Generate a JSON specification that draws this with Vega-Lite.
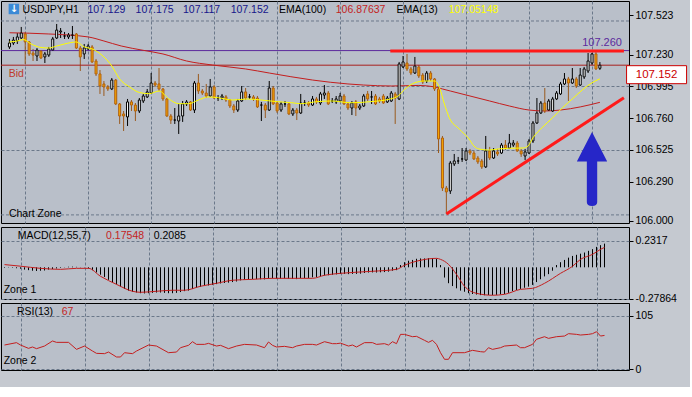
{
"$schema":"https://vega.github.io/schema/vega-lite/v6.json",
"background":"#c5c9d0",
"padding":0,
"spacing":4,
"bounds":"flush",
"config":{
"view":{"stroke":"#000000","strokeWidth":1,"fill":"#b9bfc9"},
"font":"Liberation Sans",
"axis":{"labelFont":"Liberation Sans","labelFontSize":10.5,"labelColor":"#000000","tickColor":"#000000","domain":false,"gridColor":"#6b788a","gridDash":[3,2],"gridOpacity":1,"gridWidth":1,"labelOverlap":false,"labelFlush":false,"labelBound":false},
"text":{"font":"Liberation Sans","fontSize":10.5}
},
"datasets":{
"bars":[
{"t":0,"o":107.287,"h":107.346,"l":107.272,"c":107.316,"m":-0.005},
{"t":1,"o":107.316,"h":107.361,"l":107.301,"c":107.338,"m":0.003},
{"t":2,"o":107.331,"h":107.390,"l":107.309,"c":107.361,"m":-0.004},
{"t":3,"o":107.353,"h":107.435,"l":107.346,"c":107.390,"m":-0.008},
{"t":4,"o":107.383,"h":107.398,"l":107.161,"c":107.324,"m":-0.012},
{"t":5,"o":107.324,"h":107.331,"l":107.220,"c":107.235,"m":-0.02},
{"t":6,"o":107.242,"h":107.272,"l":107.183,"c":107.227,"m":-0.025},
{"t":7,"o":107.220,"h":107.279,"l":107.183,"c":107.264,"m":-0.03},
{"t":8,"o":107.257,"h":107.264,"l":107.198,"c":107.205,"m":-0.032},
{"t":9,"o":107.213,"h":107.250,"l":107.168,"c":107.235,"m":-0.03},
{"t":10,"o":107.227,"h":107.287,"l":107.213,"c":107.272,"m":-0.028},
{"t":11,"o":107.264,"h":107.361,"l":107.257,"c":107.346,"m":-0.02},
{"t":12,"o":107.353,"h":107.457,"l":107.346,"c":107.412,"m":-0.015},
{"t":13,"o":107.398,"h":107.427,"l":107.353,"c":107.405,"m":-0.01},
{"t":14,"o":107.368,"h":107.398,"l":107.346,"c":107.368,"m":-0.005},
{"t":15,"o":107.361,"h":107.390,"l":107.346,"c":107.375,"m":0.002},
{"t":16,"o":107.375,"h":107.442,"l":107.346,"c":107.375,"m":0.005},
{"t":17,"o":107.383,"h":107.390,"l":107.272,"c":107.279,"m":0.006},
{"t":18,"o":107.279,"h":107.294,"l":107.109,"c":107.213,"m":0.004},
{"t":19,"o":107.235,"h":107.309,"l":107.198,"c":107.279,"m":0.002},
{"t":20,"o":107.272,"h":107.309,"l":107.257,"c":107.294,"m":-0.002},
{"t":21,"o":107.287,"h":107.301,"l":107.168,"c":107.176,"m":-0.01},
{"t":22,"o":107.183,"h":107.198,"l":107.072,"c":107.087,"m":-0.025},
{"t":23,"o":107.087,"h":107.116,"l":106.939,"c":106.998,"m":-0.045},
{"t":24,"o":107.013,"h":107.035,"l":106.924,"c":106.991,"m":-0.065},
{"t":25,"o":106.991,"h":107.005,"l":106.961,"c":106.976,"m":-0.085},
{"t":26,"o":106.976,"h":107.057,"l":106.968,"c":107.042,"m":-0.11},
{"t":27,"o":107.042,"h":107.050,"l":106.857,"c":106.865,"m":-0.13},
{"t":28,"o":106.865,"h":106.872,"l":106.717,"c":106.776,"m":-0.15},
{"t":29,"o":106.791,"h":106.813,"l":106.665,"c":106.776,"m":-0.17},
{"t":30,"o":106.769,"h":106.902,"l":106.702,"c":106.880,"m":-0.19},
{"t":31,"o":106.880,"h":106.894,"l":106.813,"c":106.857,"m":-0.205},
{"t":32,"o":106.857,"h":106.872,"l":106.739,"c":106.813,"m":-0.215},
{"t":33,"o":106.813,"h":106.909,"l":106.798,"c":106.894,"m":-0.222},
{"t":34,"o":106.887,"h":106.939,"l":106.872,"c":106.924,"m":-0.228},
{"t":35,"o":106.917,"h":106.976,"l":106.909,"c":106.954,"m":-0.23},
{"t":36,"o":106.946,"h":107.094,"l":106.939,"c":107.020,"m":-0.228},
{"t":37,"o":107.020,"h":107.035,"l":106.991,"c":107.005,"m":-0.225},
{"t":38,"o":107.013,"h":107.131,"l":106.961,"c":106.976,"m":-0.222},
{"t":39,"o":106.976,"h":106.983,"l":106.887,"c":106.902,"m":-0.222},
{"t":40,"o":106.902,"h":106.909,"l":106.769,"c":106.776,"m":-0.225},
{"t":41,"o":106.776,"h":106.791,"l":106.717,"c":106.746,"m":-0.228},
{"t":42,"o":106.746,"h":106.835,"l":106.717,"c":106.746,"m":-0.228},
{"t":43,"o":106.739,"h":106.865,"l":106.643,"c":106.776,"m":-0.225},
{"t":44,"o":106.776,"h":106.887,"l":106.732,"c":106.865,"m":-0.218},
{"t":45,"o":106.865,"h":106.894,"l":106.850,"c":106.880,"m":-0.21},
{"t":46,"o":106.880,"h":106.887,"l":106.813,"c":106.820,"m":-0.205},
{"t":47,"o":106.820,"h":107.035,"l":106.798,"c":107.020,"m":-0.19},
{"t":48,"o":107.020,"h":107.087,"l":106.939,"c":106.961,"m":-0.18},
{"t":49,"o":106.961,"h":106.976,"l":106.931,"c":106.946,"m":-0.172},
{"t":50,"o":106.946,"h":107.013,"l":106.909,"c":106.924,"m":-0.165},
{"t":51,"o":106.924,"h":107.050,"l":106.917,"c":106.991,"m":-0.16},
{"t":52,"o":106.991,"h":107.005,"l":106.902,"c":106.909,"m":-0.155},
{"t":53,"o":106.909,"h":106.931,"l":106.887,"c":106.909,"m":-0.148},
{"t":54,"o":106.909,"h":106.939,"l":106.894,"c":106.924,"m":-0.142},
{"t":55,"o":106.917,"h":106.931,"l":106.880,"c":106.894,"m":-0.138},
{"t":56,"o":106.894,"h":106.902,"l":106.835,"c":106.850,"m":-0.135},
{"t":57,"o":106.850,"h":106.865,"l":106.798,"c":106.820,"m":-0.13},
{"t":58,"o":106.820,"h":106.902,"l":106.806,"c":106.887,"m":-0.125},
{"t":59,"o":106.887,"h":106.998,"l":106.880,"c":106.954,"m":-0.115},
{"t":60,"o":106.954,"h":106.983,"l":106.894,"c":106.909,"m":-0.11},
{"t":61,"o":106.917,"h":106.939,"l":106.902,"c":106.917,"m":-0.106},
{"t":62,"o":106.917,"h":106.931,"l":106.887,"c":106.902,"m":-0.104},
{"t":63,"o":106.909,"h":106.924,"l":106.835,"c":106.843,"m":-0.104},
{"t":64,"o":106.857,"h":106.880,"l":106.739,"c":106.857,"m":-0.105},
{"t":65,"o":106.857,"h":106.872,"l":106.761,"c":106.820,"m":-0.106},
{"t":66,"o":106.820,"h":107.035,"l":106.813,"c":106.983,"m":-0.098},
{"t":67,"o":106.983,"h":106.998,"l":106.857,"c":106.865,"m":-0.097},
{"t":68,"o":106.872,"h":106.887,"l":106.798,"c":106.813,"m":-0.1},
{"t":69,"o":106.820,"h":106.880,"l":106.806,"c":106.865,"m":-0.1},
{"t":70,"o":106.865,"h":106.887,"l":106.843,"c":106.865,"m":-0.098},
{"t":71,"o":106.865,"h":106.880,"l":106.783,"c":106.791,"m":-0.1},
{"t":72,"o":106.791,"h":106.835,"l":106.776,"c":106.820,"m":-0.102},
{"t":73,"o":106.820,"h":106.835,"l":106.746,"c":106.798,"m":-0.104},
{"t":74,"o":106.798,"h":106.939,"l":106.791,"c":106.872,"m":-0.097},
{"t":75,"o":106.872,"h":106.894,"l":106.850,"c":106.872,"m":-0.095},
{"t":76,"o":106.872,"h":106.887,"l":106.843,"c":106.857,"m":-0.094},
{"t":77,"o":106.857,"h":106.924,"l":106.850,"c":106.902,"m":-0.088},
{"t":78,"o":106.902,"h":106.917,"l":106.865,"c":106.880,"m":-0.085},
{"t":79,"o":106.872,"h":106.954,"l":106.857,"c":106.939,"m":-0.08},
{"t":80,"o":106.931,"h":107.005,"l":106.902,"c":106.946,"m":-0.072},
{"t":81,"o":106.946,"h":106.961,"l":106.857,"c":106.865,"m":-0.07},
{"t":82,"o":106.887,"h":106.909,"l":106.872,"c":106.887,"m":-0.066},
{"t":83,"o":106.880,"h":106.924,"l":106.865,"c":106.902,"m":-0.062},
{"t":84,"o":106.887,"h":106.946,"l":106.880,"c":106.924,"m":-0.058},
{"t":85,"o":106.924,"h":106.939,"l":106.857,"c":106.865,"m":-0.058},
{"t":86,"o":106.865,"h":106.880,"l":106.820,"c":106.835,"m":-0.06},
{"t":87,"o":106.835,"h":106.887,"l":106.783,"c":106.872,"m":-0.058},
{"t":88,"o":106.880,"h":106.894,"l":106.776,"c":106.835,"m":-0.058},
{"t":89,"o":106.835,"h":106.865,"l":106.820,"c":106.850,"m":-0.056},
{"t":90,"o":106.850,"h":106.939,"l":106.843,"c":106.924,"m":-0.05},
{"t":91,"o":106.939,"h":106.961,"l":106.887,"c":106.902,"m":-0.046},
{"t":92,"o":106.917,"h":106.961,"l":106.865,"c":106.917,"m":-0.045},
{"t":93,"o":106.924,"h":106.939,"l":106.857,"c":106.865,"m":-0.046},
{"t":94,"o":106.902,"h":106.917,"l":106.872,"c":106.887,"m":-0.044},
{"t":95,"o":106.924,"h":106.939,"l":106.865,"c":106.872,"m":-0.042},
{"t":96,"o":106.880,"h":106.924,"l":106.872,"c":106.909,"m":-0.038},
{"t":97,"o":106.887,"h":106.961,"l":106.880,"c":106.946,"m":-0.03},
{"t":98,"o":106.939,"h":106.954,"l":106.717,"c":106.909,"m":-0.025},
{"t":99,"o":106.902,"h":107.176,"l":106.894,"c":107.161,"m":0.02},
{"t":100,"o":107.139,"h":107.220,"l":107.131,"c":107.176,"m":0.045},
{"t":101,"o":107.168,"h":107.235,"l":107.109,"c":107.124,"m":0.058},
{"t":102,"o":107.124,"h":107.139,"l":107.079,"c":107.094,"m":0.065},
{"t":103,"o":107.094,"h":107.213,"l":107.087,"c":107.146,"m":0.075},
{"t":104,"o":107.139,"h":107.153,"l":107.057,"c":107.072,"m":0.078},
{"t":105,"o":107.079,"h":107.094,"l":107.013,"c":107.028,"m":0.078},
{"t":106,"o":107.035,"h":107.109,"l":107.020,"c":107.094,"m":0.08},
{"t":107,"o":107.094,"h":107.109,"l":107.035,"c":107.050,"m":0.08},
{"t":108,"o":107.050,"h":107.057,"l":106.961,"c":106.976,"m":0.075},
{"t":109,"o":106.976,"h":106.991,"l":106.502,"c":106.606,"m":0.02},
{"t":110,"o":106.613,"h":106.628,"l":106.221,"c":106.243,"m":-0.09},
{"t":111,"o":106.243,"h":106.258,"l":106.051,"c":106.214,"m":-0.14},
{"t":112,"o":106.221,"h":106.443,"l":106.199,"c":106.428,"m":-0.165},
{"t":113,"o":106.421,"h":106.495,"l":106.406,"c":106.443,"m":-0.185},
{"t":114,"o":106.443,"h":106.473,"l":106.421,"c":106.443,"m":-0.205},
{"t":115,"o":106.458,"h":106.539,"l":106.436,"c":106.458,"m":-0.215},
{"t":116,"o":106.450,"h":106.539,"l":106.443,"c":106.517,"m":-0.228},
{"t":117,"o":106.517,"h":106.532,"l":106.487,"c":106.502,"m":-0.235},
{"t":118,"o":106.502,"h":106.517,"l":106.450,"c":106.458,"m":-0.24},
{"t":119,"o":106.465,"h":106.480,"l":106.421,"c":106.436,"m":-0.245},
{"t":120,"o":106.443,"h":106.458,"l":106.384,"c":106.399,"m":-0.246},
{"t":121,"o":106.399,"h":106.628,"l":106.391,"c":106.517,"m":-0.244},
{"t":122,"o":106.517,"h":106.547,"l":106.450,"c":106.465,"m":-0.245},
{"t":123,"o":106.465,"h":106.539,"l":106.458,"c":106.517,"m":-0.243},
{"t":124,"o":106.510,"h":106.532,"l":106.480,"c":106.495,"m":-0.238},
{"t":125,"o":106.502,"h":106.576,"l":106.495,"c":106.561,"m":-0.235},
{"t":126,"o":106.561,"h":106.598,"l":106.524,"c":106.539,"m":-0.225},
{"t":127,"o":106.539,"h":106.643,"l":106.532,"c":106.576,"m":-0.21},
{"t":128,"o":106.561,"h":106.598,"l":106.547,"c":106.576,"m":-0.2},
{"t":129,"o":106.576,"h":106.591,"l":106.510,"c":106.517,"m":-0.19},
{"t":130,"o":106.517,"h":106.532,"l":106.473,"c":106.495,"m":-0.18},
{"t":131,"o":106.480,"h":106.532,"l":106.450,"c":106.510,"m":-0.17},
{"t":132,"o":106.502,"h":106.606,"l":106.495,"c":106.591,"m":-0.155},
{"t":133,"o":106.591,"h":106.739,"l":106.576,"c":106.724,"m":-0.13},
{"t":134,"o":106.724,"h":106.909,"l":106.717,"c":106.798,"m":-0.105},
{"t":135,"o":106.798,"h":106.887,"l":106.791,"c":106.872,"m":-0.08},
{"t":136,"o":106.872,"h":106.983,"l":106.798,"c":106.813,"m":-0.06},
{"t":137,"o":106.820,"h":106.902,"l":106.813,"c":106.887,"m":-0.03},
{"t":138,"o":106.813,"h":106.917,"l":106.806,"c":106.902,"m":0.02},
{"t":139,"o":106.902,"h":106.961,"l":106.894,"c":106.946,"m":0.045},
{"t":140,"o":106.939,"h":107.028,"l":106.931,"c":107.013,"m":0.065},
{"t":141,"o":107.013,"h":107.094,"l":107.005,"c":107.050,"m":0.085},
{"t":142,"o":107.050,"h":107.065,"l":106.887,"c":107.020,"m":0.1},
{"t":143,"o":107.020,"h":107.131,"l":107.013,"c":107.050,"m":0.11},
{"t":144,"o":107.050,"h":107.065,"l":106.983,"c":106.998,"m":0.12},
{"t":145,"o":107.005,"h":107.131,"l":106.998,"c":107.079,"m":0.13},
{"t":146,"o":107.065,"h":107.139,"l":107.050,"c":107.124,"m":0.145},
{"t":147,"o":107.109,"h":107.242,"l":107.094,"c":107.183,"m":0.16},
{"t":148,"o":107.168,"h":107.242,"l":107.153,"c":107.235,"m":0.18},
{"t":149,"o":107.235,"h":107.257,"l":107.116,"c":107.124,"m":0.195},
{"t":150,"o":107.129,"h":107.175,"l":107.117,"c":107.152,"m":0.2085}
],
"ema13":[
{"t":0,"p":107.324},{"t":2,"p":107.331},{"t":3.5,"p":107.342},{"t":5.5,"p":107.309},{"t":8,"p":107.283},{"t":10,"p":107.279},{"t":12,"p":107.294},{"t":14,"p":107.309},{"t":17,"p":107.324},{"t":19,"p":107.287},{"t":21,"p":107.272},{"t":24,"p":107.213},{"t":26,"p":107.146},{"t":28,"p":107.050},{"t":30.5,"p":106.991},{"t":33,"p":106.950},{"t":35.5,"p":106.941},{"t":38,"p":106.961},{"t":40.5,"p":106.902},{"t":43,"p":106.867},{"t":45.5,"p":106.867},{"t":48,"p":106.894},{"t":50.5,"p":106.917},{"t":53,"p":106.911},{"t":56.75,"p":106.894},{"t":60.5,"p":106.902},{"t":64,"p":106.894},{"t":68,"p":106.882},{"t":71.75,"p":106.874},{"t":74,"p":106.867},{"t":77.5,"p":106.880},{"t":81.75,"p":106.887},{"t":86.75,"p":106.874},{"t":91.75,"p":106.882},{"t":96.75,"p":106.902},{"t":98.75,"p":106.924},{"t":100.5,"p":106.976},{"t":103,"p":107.022},{"t":105.5,"p":107.035},{"t":108,"p":107.035},{"t":109.25,"p":106.985},{"t":110.5,"p":106.865},{"t":111.75,"p":106.763},{"t":114.25,"p":106.680},{"t":116.75,"p":106.606},{"t":118,"p":106.554},{"t":119.25,"p":106.532},{"t":121.75,"p":106.524},{"t":124.25,"p":106.532},{"t":126.75,"p":106.537},{"t":130.5,"p":106.539},{"t":131.75,"p":106.554},{"t":133,"p":106.615},{"t":135.5,"p":106.695},{"t":138,"p":106.763},{"t":140.5,"p":106.837},{"t":143,"p":106.902},{"t":145.5,"p":106.968},{"t":148,"p":107.022},{"t":150,"p":107.051}
],
"ema100":[
{"t":0,"p":107.392},{"t":10,"p":107.383},{"t":20,"p":107.361},{"t":24,"p":107.331},{"t":28.4,"p":107.294},{"t":34,"p":107.262},{"t":39,"p":107.235},{"t":45,"p":107.183},{"t":51.6,"p":107.153},{"t":60,"p":107.124},{"t":66,"p":107.094},{"t":77,"p":107.042},{"t":86,"p":107.013},{"t":90,"p":107.005},{"t":97,"p":106.998},{"t":104,"p":107.002},{"t":108,"p":106.991},{"t":110,"p":106.976},{"t":112,"p":106.961},{"t":117,"p":106.924},{"t":122,"p":106.887},{"t":127,"p":106.850},{"t":132,"p":106.820},{"t":136,"p":106.813},{"t":140,"p":106.820},{"t":145,"p":106.843},{"t":150,"p":106.877}
],
"sig":[
{"t":0,"s":0.024},{"t":4,"s":0.01},{"t":9,"s":-0.009},{"t":14,"s":-0.018},{"t":18,"s":-0.009},{"t":21,"s":-0.009},{"t":24,"s":-0.079},{"t":28,"s":-0.150},{"t":32,"s":-0.211},{"t":34,"s":-0.220},{"t":38,"s":-0.211},{"t":42,"s":-0.202},{"t":45,"s":-0.202},{"t":49,"s":-0.167},{"t":53,"s":-0.141},{"t":57,"s":-0.114},{"t":62,"s":-0.106},{"t":67,"s":-0.097},{"t":74,"s":-0.097},{"t":77,"s":-0.097},{"t":80,"s":-0.070},{"t":84,"s":-0.053},{"t":92,"s":-0.035},{"t":98,"s":-0.018},{"t":100,"s":0.018},{"t":104,"s":0.062},{"t":108,"s":0.079},{"t":109,"s":0.070},{"t":111,"s":0.026},{"t":113,"s":-0.062},{"t":115,"s":-0.167},{"t":118,"s":-0.229},{"t":122,"s":-0.246},{"t":125,"s":-0.238},{"t":129,"s":-0.194},{"t":132,"s":-0.185},{"t":135,"s":-0.141},{"t":139,"s":-0.053},{"t":142,"s":0.009},{"t":144,"s":0.070},{"t":147,"s":0.114},{"t":149,"s":0.158},{"t":150,"s":0.1755}
],
"rsi":[
{"t":0,"r":47.5},{"t":3,"r":52.2},{"t":4,"r":47.5},{"t":6,"r":40.9},{"t":7,"r":43.6},{"t":8,"r":40.3},{"t":10,"r":45.5},{"t":12,"r":55.5},{"t":13,"r":52.8},{"t":16,"r":52.8},{"t":18,"r":38.9},{"t":20,"r":45.5},{"t":22,"r":35.6},{"t":23,"r":31.0},{"t":25,"r":30.4},{"t":26,"r":33.6},{"t":28,"r":23.8},{"t":29,"r":23.8},{"t":30,"r":32.3},{"t":32,"r":30.4},{"t":33,"r":35.6},{"t":36,"r":47.5},{"t":38,"r":45.5},{"t":41,"r":32.3},{"t":43,"r":33.6},{"t":44,"r":42.2},{"t":46,"r":46.9},{"t":47,"r":54.1},{"t":48,"r":48.8},{"t":50,"r":48.8},{"t":51,"r":50.8},{"t":53,"r":45.5},{"t":54,"r":46.9},{"t":56,"r":40.3},{"t":58,"r":45.5},{"t":60,"r":48.8},{"t":63,"r":47.5},{"t":65,"r":42.2},{"t":66,"r":53.5},{"t":67,"r":46.9},{"t":68,"r":43.6},{"t":70,"r":44.9},{"t":72,"r":42.2},{"t":73,"r":45.5},{"t":75,"r":48.8},{"t":77,"r":48.8},{"t":78,"r":47.5},{"t":80,"r":54.1},{"t":82,"r":50.2},{"t":83,"r":50.2},{"t":84,"r":51.2},{"t":86,"r":45.5},{"t":87,"r":47.5},{"t":88,"r":43.6},{"t":90,"r":52.2},{"t":92,"r":52.2},{"t":93,"r":48.8},{"t":95,"r":50.2},{"t":96,"r":47.5},{"t":97,"r":54.1},{"t":98,"r":50.2},{"t":99,"r":68.6},{"t":100,"r":68.6},{"t":102,"r":64.0},{"t":103,"r":64.7},{"t":105,"r":56.8},{"t":106,"r":52.8},{"t":107,"r":56.8},{"t":108,"r":48.8},{"t":109,"r":32.3},{"t":110,"r":19.2},{"t":111,"r":19.2},{"t":112,"r":32.3},{"t":115,"r":32.3},{"t":117,"r":37.0},{"t":119,"r":34.3},{"t":120,"r":33.6},{"t":121,"r":42.2},{"t":122,"r":38.9},{"t":124,"r":42.2},{"t":125,"r":45.5},{"t":128,"r":47.5},{"t":129,"r":42.2},{"t":130,"r":42.2},{"t":132,"r":48.8},{"t":133,"r":58.8},{"t":135,"r":64.0},{"t":136,"r":60.7},{"t":138,"r":64.0},{"t":140,"r":65.3},{"t":141,"r":70.0},{"t":143,"r":68.6},{"t":144,"r":67.3},{"t":146,"r":68.6},{"t":147,"r":70.0},{"t":148,"r":73.9},{"t":149,"r":65.3},{"t":150,"r":66.5}
],
"trend":[
{"t":96.75,"p":107.257,"t2":156.1,"p2":107.257},
{"t":111,"p":106.051,"t2":156.1,"p2":106.911}
],
"gridExtra":[{"p":107.479},{"p":106.044}],
"notesMain":[
{"t":3.3,"p":107.560,"txt":"USDJPY,H1","k":"name"},
{"t":19.8,"p":107.560,"txt":"107.129","k":"ohlc"},
{"t":32.05,"p":107.560,"txt":"107.175","k":"ohlc"},
{"t":44.1,"p":107.560,"txt":"107.117","k":"ohlc"},
{"t":56.2,"p":107.560,"txt":"107.152","k":"ohlc"},
{"t":68.45,"p":107.560,"txt":"EMA(100)","k":"name"},
{"t":82.9,"p":107.560,"txt":"106.87637","k":"ema100"},
{"t":98.3,"p":107.560,"txt":"EMA(13)","k":"name"},
{"t":111.6,"p":107.560,"txt":"107.05148","k":"ema13"},
{"t":-0.2,"p":107.087,"txt":"Bid","k":"bid"},
{"t":-0.125,"p":106.047,"txt":"Chart Zone","k":"name"}
],
"notesMacd":[
{"t":3.3,"v":0.280,"txt":"MACD(12,55,7)","k":"name"},
{"t":25.4,"v":0.280,"txt":"0.17548","k":"ema100"},
{"t":37.3,"v":0.280,"txt":"0.2085","k":"name"},
{"t":-0.2,"v":-0.204,"txt":"Zone 1","k":"name"}
],
"notesRsi":[
{"t":3.1,"v":112.9,"txt":"RSI(13)","k":"name"},
{"t":14.3,"v":112.9,"txt":"67","k":"ema100"},
{"t":-0.2,"v":15.85,"txt":"Zone 2","k":"name"}
]
},
"vconcat":[
{
"width":628,"height":222,
"resolve":{"axis":{"y":"independent"}},
"layer":[
{"data":{"name":"bars"},"mark":{"type":"rule","strokeWidth":1},
"encoding":{
"x":{"field":"t","type":"quantitative","title":null,"scale":{"domain":[-0.875,156.125],"nice":false,"zero":false},"axis":{"values":[4,12,20,28,36,44,52,60,68,76,84,92,100,108,116,124,132,140,148,156],"labels":false,"ticks":false,"grid":true}},
"y":{"field":"l","type":"quantitative","title":null,"scale":{"domain":[105.984,107.627],"nice":false,"zero":false},"axis":{"orient":"right","values":[106,106.525,106.995,107.523],"format":".3f","labelOverlap":false,"gridOpacity":{"condition":{"test":"datum.value==106||datum.value==107.523","value":0},"value":1},"tickSize":4,"labelPadding":2}},
"y2":{"field":"h"},
"color":{"condition":{"test":"datum.c>=datum.o","value":"#000000"},"value":"#9a5a1e"}}},
{"data":{"name":"gridExtra"},"mark":{"type":"rule","color":"#6b788a","strokeWidth":1,"strokeDash":[3,2]},
"encoding":{"y":{"field":"p","type":"quantitative","title":null,"scale":{"domain":[105.984,107.627],"nice":false,"zero":false},"axis":{"orient":"right","values":[106.29,106.76,107.23],"format":".3f","labelOverlap":false,"tickSize":4,"labelPadding":2}}}},
{"data":{"values":[{}]},"mark":{"type":"rule","color":"#5c2a9d","strokeWidth":1},
"encoding":{"y":{"datum":107.26,"type":"quantitative","axis":null,"scale":{"domain":[105.984,107.627],"nice":false,"zero":false}}}},
{"data":{"values":[{}]},"mark":{"type":"rule","color":"#a8201f","strokeWidth":1},
"encoding":{"y":{"datum":107.152,"type":"quantitative","axis":null,"scale":{"domain":[105.984,107.627],"nice":false,"zero":false}}}},
{"data":{"name":"ema100"},"mark":{"type":"line","color":"#c41e1e","strokeWidth":1,"interpolate":"monotone"},
"encoding":{"x":{"field":"t","type":"quantitative","title":null,"scale":{"domain":[-0.875,156.125],"nice":false,"zero":false}},
"y":{"field":"p","type":"quantitative","axis":null,"scale":{"domain":[105.984,107.627],"nice":false,"zero":false}}}},
{"data":{"name":"bars"},"mark":{"type":"bar","size":2,"strokeWidth":1},
"encoding":{"x":{"field":"t","type":"quantitative","title":null,"scale":{"domain":[-0.875,156.125],"nice":false,"zero":false}},
"y":{"field":"o","type":"quantitative","axis":null,"scale":{"domain":[105.984,107.627],"nice":false,"zero":false}},
"y2":{"field":"c"},
"fill":{"condition":{"test":"datum.c>=datum.o","value":"#ffffff"},"value":"#f5a500"},
"stroke":{"condition":{"test":"datum.c>=datum.o","value":"#000000"},"value":"#b06010"}}},
{"data":{"name":"ema13"},"mark":{"type":"line","color":"#ffff00","strokeWidth":1,"interpolate":"monotone"},
"encoding":{"x":{"field":"t","type":"quantitative","title":null,"scale":{"domain":[-0.875,156.125],"nice":false,"zero":false}},
"y":{"field":"p","type":"quantitative","axis":null,"scale":{"domain":[105.984,107.627],"nice":false,"zero":false}}}},
{"data":{"name":"trend"},"mark":{"type":"rule","color":"#ff1a1a","strokeWidth":3},
"encoding":{"x":{"field":"t","type":"quantitative","title":null,"scale":{"domain":[-0.875,156.125],"nice":false,"zero":false}},
"x2":{"field":"t2"},
"y":{"field":"p","type":"quantitative","axis":null,"scale":{"domain":[105.984,107.627],"nice":false,"zero":false}},
"y2":{"field":"p2"}}},
{"data":{"values":[{"t":148,"p":106.384}]},"mark":{"type":"point","shape":"M0,-1L0.41,-0.2L0.14,-0.2L0.14,0.9Q0.14,1 0,1Q-0.14,1 -0.14,0.9L-0.14,-0.2L-0.41,-0.2Z","filled":true,"color":"#2626c8","size":5476,"opacity":1},
"encoding":{"x":{"field":"t","type":"quantitative","title":null,"scale":{"domain":[-0.875,156.125],"nice":false,"zero":false}},
"y":{"field":"p","type":"quantitative","axis":null,"scale":{"domain":[105.984,107.627],"nice":false,"zero":false}}}},
{"data":{"name":"notesMain"},"mark":{"type":"text","align":"left","baseline":"middle"},
"encoding":{"x":{"field":"t","type":"quantitative","title":null,"scale":{"domain":[-0.875,156.125],"nice":false,"zero":false}},
"y":{"field":"p","type":"quantitative","axis":null,"scale":{"domain":[105.984,107.627],"nice":false,"zero":false}},
"text":{"field":"txt"},
"color":{"field":"k","type":"nominal","legend":null,"scale":{"domain":["name","ohlc","ema100","ema13","level","bid"],"range":["#000000","#16168a","#c41e1e","#ffff00","#5c2a9d","#c0392b"]}}}},
{"data":{"values":[{"t":155.6,"p":107.316,"txt":"107.260"}]},"mark":{"type":"text","align":"right","baseline":"middle","color":"#5c2a9d","fontSize":11},
"encoding":{"x":{"field":"t","type":"quantitative","title":null,"scale":{"domain":[-0.875,156.125],"nice":false,"zero":false}},
"y":{"field":"p","type":"quantitative","axis":null,"scale":{"domain":[105.984,107.627],"nice":false,"zero":false}},
"text":{"field":"txt"}}},
{"data":{"values":[{"t":164.4,"p":107.152,"txt":"107.152"}]},"mark":{"type":"point","shape":"M-1,-0.3L1,-0.3L1,0.3L-1,0.3Z","filled":true,"fill":"#ffffff","stroke":"#cc0000","strokeWidth":1,"size":3600,"opacity":1,"yOffset":9.5},
"encoding":{"x":{"field":"t","type":"quantitative","title":null,"scale":{"domain":[-0.875,156.125],"nice":false,"zero":false}},
"y":{"field":"p","type":"quantitative","axis":null,"scale":{"domain":[105.984,107.627],"nice":false,"zero":false}}}},
{"data":{"values":[{"t":164.4,"p":107.152,"txt":"107.152"}]},"mark":{"type":"text","align":"center","baseline":"middle","color":"#cc0000","fontSize":11.5,"yOffset":9.5},
"encoding":{"x":{"field":"t","type":"quantitative","title":null,"scale":{"domain":[-0.875,156.125],"nice":false,"zero":false}},
"y":{"field":"p","type":"quantitative","axis":null,"scale":{"domain":[105.984,107.627],"nice":false,"zero":false}},
"text":{"field":"txt"}}},
{"data":{"values":[{"t":1.125,"p":107.568}]},"mark":{"type":"point","shape":"square","filled":true,"color":"#3b8ad6","size":110,"opacity":1},
"encoding":{"x":{"field":"t","type":"quantitative","title":null,"scale":{"domain":[-0.875,156.125],"nice":false,"zero":false}},
"y":{"field":"p","type":"quantitative","axis":null,"scale":{"domain":[105.984,107.627],"nice":false,"zero":false}}}},
{"data":{"values":[{"t":1.125,"p":107.568,"txt":"↓"}]},"mark":{"type":"text","align":"center","baseline":"middle","color":"#ffffff","font":"DejaVu Sans","fontWeight":"bold","fontSize":10},
"encoding":{"x":{"field":"t","type":"quantitative","title":null,"scale":{"domain":[-0.875,156.125],"nice":false,"zero":false}},
"y":{"field":"p","type":"quantitative","axis":null,"scale":{"domain":[105.984,107.627],"nice":false,"zero":false}},
"text":{"field":"txt"}}}
]
},
{
"width":628,"height":72,
"layer":[
{"data":{"name":"bars"},"mark":{"type":"rule","color":"#000000","strokeWidth":1},
"encoding":{
"x":{"field":"t","type":"quantitative","title":null,"scale":{"domain":[-0.875,156.125],"nice":false,"zero":false},"axis":{"values":[4,12,20,28,36,44,52,60,68,76,84,92,100,108,116,124,132,140,148,156],"labels":false,"ticks":false,"grid":true}},
"y":{"field":"m","type":"quantitative","title":null,"scale":{"domain":[-0.279,0.3549],"nice":false,"zero":false},"axis":{"orient":"right","values":[-0.27864,0.2317],"labelExpr":"datum.value>0 ? '0.2317' : '-0.27864'","labelOverlap":false,"tickSize":4,"labelPadding":2}},
"y2":{"datum":0}}},
{"data":{"name":"sig"},"mark":{"type":"line","color":"#c41e1e","strokeWidth":1,"interpolate":"monotone"},
"encoding":{"x":{"field":"t","type":"quantitative","title":null,"scale":{"domain":[-0.875,156.125],"nice":false,"zero":false}},
"y":{"field":"s","type":"quantitative","title":null,"scale":{"domain":[-0.279,0.3549],"nice":false,"zero":false}}}},
{"data":{"name":"notesMacd"},"mark":{"type":"text","align":"left","baseline":"middle"},
"encoding":{"x":{"field":"t","type":"quantitative","title":null,"scale":{"domain":[-0.875,156.125],"nice":false,"zero":false}},
"y":{"field":"v","type":"quantitative","title":null,"scale":{"domain":[-0.279,0.3549],"nice":false,"zero":false}},
"text":{"field":"txt"},
"color":{"field":"k","type":"nominal","legend":null,"scale":{"domain":["name","ohlc","ema100","ema13","level","bid"],"range":["#000000","#16168a","#c41e1e","#ffff00","#5c2a9d","#c0392b"]}}}}
]
},
{
"width":628,"height":67,
"layer":[
{"data":{"name":"rsi"},"mark":{"type":"line","color":"#c41e1e","strokeWidth":1},
"encoding":{
"x":{"field":"t","type":"quantitative","title":null,"scale":{"domain":[-0.875,156.125],"nice":false,"zero":false},"axis":{"values":[4,12,20,28,36,44,52,60,68,76,84,92,100,108,116,124,132,140,148,156],"labelExpr":"(datum.value-12)%16==0 ? ['11:00','3:00','19:00','11:00','6:00','22:00','14:00','6:00','22:00','14:00'][(datum.value-12)/16] : ''","labelOverlap":false,"ticks":true,"tickSize":3,"tickOpacity":{"condition":{"test":"(datum.value-12)%16==0","value":1},"value":0},"labelPadding":3,"grid":true}},
"y":{"field":"r","type":"quantitative","title":null,"scale":{"domain":[-1.98,130.75],"nice":false,"zero":false},"axis":{"orient":"right","values":[0,30,70,105],"labelOverlap":false,"gridDash":{"condition":{"test":"datum.value==30||datum.value==70","value":[1,0]},"value":[3,2]},"gridColor":{"condition":{"test":"datum.value==30||datum.value==70","value":"#d0d4da"},"value":"#6b788a"},"tickSize":4,"labelPadding":2}}}},
{"data":{"name":"notesRsi"},"mark":{"type":"text","align":"left","baseline":"middle"},
"encoding":{"x":{"field":"t","type":"quantitative","title":null,"scale":{"domain":[-0.875,156.125],"nice":false,"zero":false}},
"y":{"field":"v","type":"quantitative","title":null,"scale":{"domain":[-1.98,130.75],"nice":false,"zero":false}},
"text":{"field":"txt"},
"color":{"field":"k","type":"nominal","legend":null,"scale":{"domain":["name","ohlc","ema100","ema13","level","bid"],"range":["#000000","#16168a","#c41e1e","#ffff00","#5c2a9d","#c0392b"]}}}}
]
}
]
}
